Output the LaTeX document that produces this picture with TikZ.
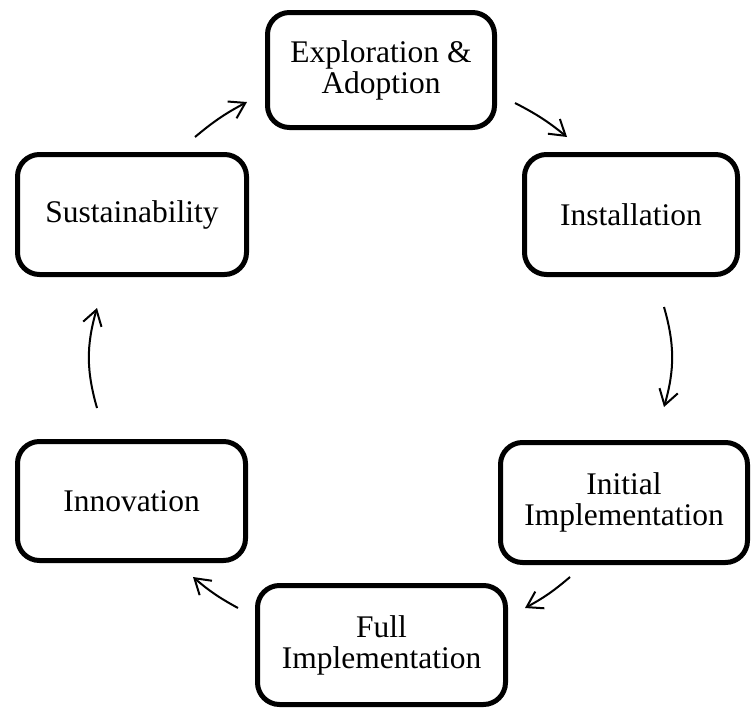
\documentclass[tikz,border=0pt]{standalone}
\usepackage{fontspec}
\setmainfont{Liberation Serif}
\usepackage{tikz}
\usetikzlibrary{arrows.meta, positioning, calc}
\tikzset{
    stagefont/.style = {font=\fontsize{31.5}{31}\selectfont},
    flow/.style = {draw, line width=2pt, -{Straight Barb[length=15pt, width=19pt]}}
}

\begin{document}
\begin{tikzpicture}[
        x=1pt, y=-1pt,
        % STYLES
        stage/.style = {rectangle, draw, rounded corners=22pt, line width=5pt, align=center, stagefont, minimum height=120pt},
        curve/.style = {bend left=6},
        steep/.style = {bend left=16}
    ]
        \useasboundingbox (0,0) rectangle (752,707);

        % --- NODES ---
        \node [stage, minimum width=227pt, minimum height=115pt] (explore) at (381,70) {Exploration \&\\Adoption};
        \node [stage, minimum width=213pt] (install) at (631,214.5) {Installation};
        \node [stage, minimum width=247pt] (initial) at (624,502.5) {Initial\\Implementation};
        \node [stage, minimum width=248pt, minimum height=119pt] (full) at (381.5,645) {Full\\Implementation};
        \node [stage, minimum width=228pt, minimum height=119pt] (innov) at (131.5,501) {Innovation};
        \node [stage, minimum width=229pt] (sustain) at (132,214.5) {Sustainability};

        % --- PATHS ---
        \path [flow] ([shift={(63,-15)}]sustain.north) to[curve] ([shift={(-18,32)}]explore.west);
        \path [flow] ([shift={(18,33)}]explore.east) to[curve] ([shift={(-64,-15)}]install.north);
        \path [flow] ([shift={(33,30)}]install.south) to[steep] ([shift={(40,-33)}]initial.north);
        \path [flow] ([shift={(-54,12)}]initial.south) to[curve] ([shift={(17,-37)}]full.east);
        \path [flow] ([shift={(-17,-37)}]full.west) to[curve] ([shift={(61.5,14)}]innov.south);
        \path [flow] ([shift={(-34.5,-31)}]innov.north) to[steep] ([shift={(-35,31)}]sustain.south);

\end{tikzpicture}
\end{document}
